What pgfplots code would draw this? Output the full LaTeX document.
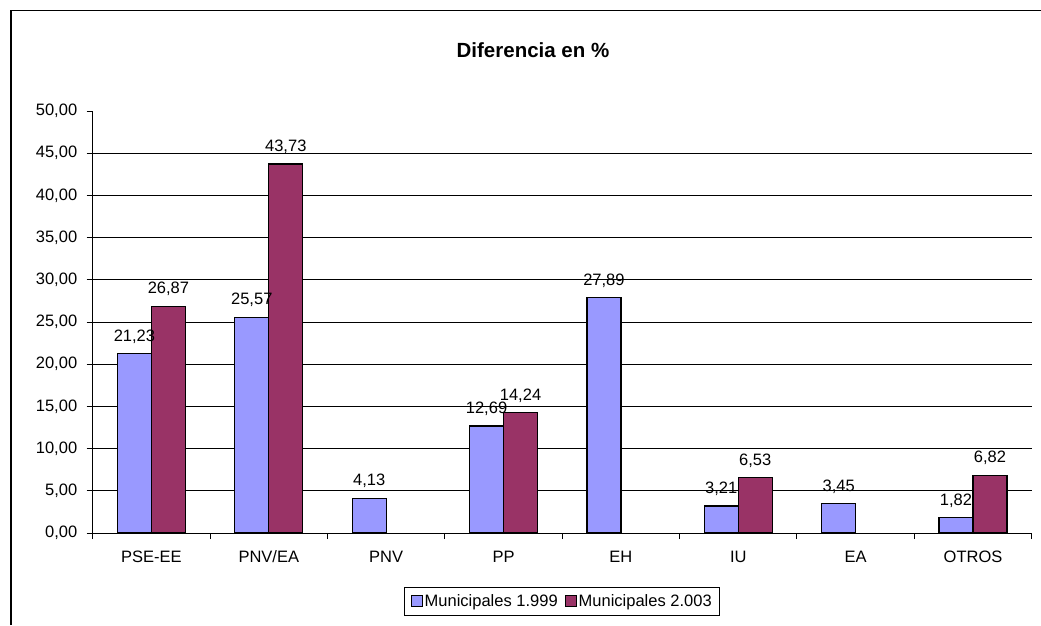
\documentclass[border=0pt]{standalone}
\usepackage{pgfplots}
\pgfplotsset{compat=1.18}
\usepackage{fontspec}
\setmainfont{Liberation Sans}
\definecolor{azul}{HTML}{9999FF}
\definecolor{granate}{HTML}{993366}

\begin{document}
\begin{tikzpicture}[x=1pt,y=1pt]
\useasboundingbox (0,0) rectangle (1041,625);
\fill[white] (0,0) rectangle (1041,625);
\draw[line width=1.8pt] (11,0) -- (11,614.5) -- (1041,614.5);
\node[font=\fontsize{20.5}{24}\selectfont\bfseries] at (533,575) {Diferencia en \%};
\begin{axis}[
  at={(79,109)}, anchor=south west,
  scale only axis, width=939pt, height=422pt,
  ybar=0pt, bar width=34pt,
  xmin=-0.5, xmax=7.5, ymin=0, ymax=50,
  axis lines=left, axis line style={-, line width=1pt},
  xtick={-0.5,0.5,...,7.5}, x tick label as interval,
  xticklabels={PSE-EE,PNV/EA,PNV,PP,EH,IU,EA,OTROS},
  ytick={0,5,...,45}, extra y ticks={50}, extra y tick style={grid=none},
  ymajorgrids, grid style={black, line width=0.8pt},
  tick align=outside, major tick length=6pt, tick style={black, line width=1pt},
  ticklabel style={font=\fontsize{16.5}{19}\selectfont},
  xticklabel style={text height=12pt, text depth=0pt, yshift=-8pt},
  yticklabel style={xshift=-6pt},
  /pgf/number format/fixed, /pgf/number format/fixed zerofill,
  /pgf/number format/precision=2, /pgf/number format/use comma,
  /pgf/number format/assume math mode=true,
  nodes near coords,
  nodes near coords style={font=\fontsize{16.5}{19}\selectfont, anchor=south, inner sep=0pt, text depth=0pt, yshift=12pt},
  legend style={at={(0.5,-0.162)}, anchor=center, draw=black, line width=0.8pt,
    font=\fontsize{16.5}{19}\selectfont, inner xsep=6pt, inner ysep=5pt,
    /tikz/every even column/.append style={column sep=5pt}},
  legend columns=2,
  legend image code/.code={\draw[#1, draw=black, line width=1pt] (0pt,-5.5pt) rectangle (11pt,5.5pt);},
]
\addplot[fill=azul, draw=black, line width=1.2pt] coordinates {
  (0,21.23) (1,25.57) (2,4.13) (3,12.69) (4,27.89) (5,3.21) (6,3.45) (7,1.82)
};
\addplot[fill=granate, draw=black, line width=1.2pt] coordinates {
  (0,26.87) (1,43.73) (3,14.24) (5,6.53) (7,6.82)
};
\legend{Municipales 1.999, Municipales 2.003}
\end{axis}
\end{tikzpicture}
\end{document}
